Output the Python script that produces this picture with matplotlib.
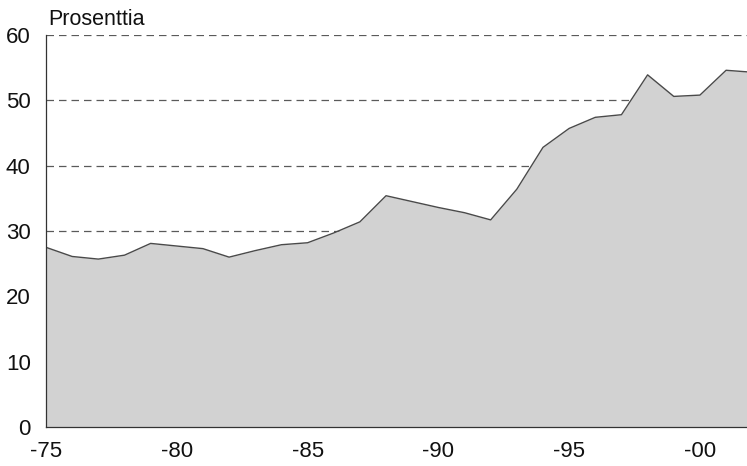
import numpy as np
import matplotlib.pyplot as plt

years = np.arange(1975, 2003)
values = [27.5, 26.1, 25.7, 26.3, 28.1, 27.7, 27.3, 26.0, 27.0, 27.9,
          28.2, 29.7, 31.4, 35.4, 34.5, 33.6, 32.8, 31.7, 36.4, 42.8,
          45.7, 47.4, 47.8, 53.9, 50.6, 50.8, 54.6, 54.3]
tick_years = [1975, 1980, 1985, 1990, 1995, 2000]
tick_labels = ['-75', '-80', '-85', '-90', '-95', '-00']

plt.rcParams['font.family'] = ['Liberation Sans', 'DejaVu Sans']

fig = plt.figure(figsize=(7.47, 4.66), dpi=100)
ax = fig.add_axes([0.0616, 0.0837, 0.9384, 0.8412])

# dashed grid sits under the area
for g in [10, 20, 30, 40, 50, 60]:
    ax.axhline(g, color='#5a5a5a', lw=0.9, ls=(0, (6, 4)), zorder=1)
ax.fill_between(years, values, 0, color='#d2d2d2', zorder=2, lw=0)
ax.plot(years, values, color='#4a4a4a', lw=1.0, zorder=3)

ax.set_xlim(1975, 2001.8)
ax.set_ylim(0, 60)
ax.set_yticks(range(0, 61, 10))
ax.set_xticks(tick_years)
ax.set_xticklabels(tick_labels)
ax.tick_params(length=0, labelsize=16, colors='#111111')
ax.tick_params(axis='y', pad=11)
ax.tick_params(axis='x', pad=10)

for s in ['top', 'right']:
    ax.spines[s].set_visible(False)
for s in ['left', 'bottom']:
    ax.spines[s].set_color('#333333')
    ax.spines[s].set_linewidth(0.9)
    ax.spines[s].set_zorder(4)

fig.text(0.064, 0.946, 'Prosenttia', fontsize=15.5, color='#111111', va='baseline')

fig.savefig('out.png', dpi=100)
